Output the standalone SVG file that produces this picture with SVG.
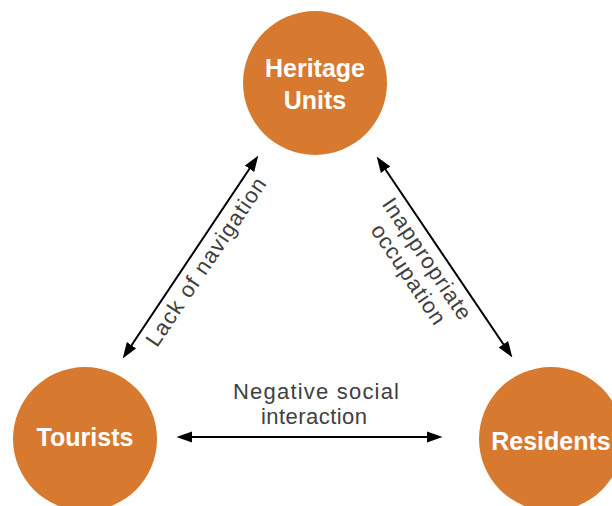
<svg xmlns="http://www.w3.org/2000/svg" width="612" height="506" viewBox="0 0 612 506">
<style>
.node{fill:#D77A30}
.nt{font-family:"Liberation Sans",Arial,sans-serif;font-weight:bold;font-size:25px;fill:#FFFFFF;text-anchor:middle}
.lbl{font-family:"Liberation Sans",Arial,sans-serif;font-size:22px;fill:#404040;text-anchor:middle}
.conn{stroke:#000000;stroke-width:2;fill:none;marker-start:url(#ah);marker-end:url(#ah)}
</style>
<defs>
<marker id="ah" markerUnits="userSpaceOnUse" markerWidth="16" markerHeight="12" viewBox="0 0 14 10" refX="10" refY="5" orient="auto-start-reverse">
<path d="M0,0 L14,5 L0,10 z" fill="#000000"/>
</marker>
</defs>
<rect width="612" height="506" fill="#FFFFFF"/>
<g id="connectors">
<line class="conn" x1="125.2" y1="354.7" x2="255.8" y2="159.3"/>
<line class="conn" x1="379.2" y1="160.3" x2="509.8" y2="353.7"/>
<line class="conn" x1="181" y1="437" x2="438" y2="437"/>
<g transform="translate(190.5,257) rotate(-56.2)">
<text class="lbl" x="4.5" y="23" textLength="198" lengthAdjust="spacing">Lack of navigation</text>
</g>
<g transform="translate(444.5,257) rotate(56.1)">
<text class="lbl" x="-8.4" y="23" textLength="142" lengthAdjust="spacing">Inappropriate</text>
<text class="lbl" x="-5.8" y="47" textLength="116" lengthAdjust="spacing">occupation</text>
</g>
<text class="lbl" x="316" y="399" font-size="21" textLength="166" lengthAdjust="spacing">Negative social</text>
<text class="lbl" x="314" y="424" font-size="21" textLength="106" lengthAdjust="spacing">interaction</text>
</g>
<g id="heritage">
<circle class="node" cx="315" cy="83" r="72"/>
<text class="nt" x="315" y="77">Heritage</text>
<text class="nt" x="315" y="109">Units</text>
</g>
<g id="tourists">
<circle class="node" cx="85" cy="439" r="72"/>
<text class="nt" x="85" y="446">Tourists</text>
</g>
<g id="residents">
<circle class="node" cx="551" cy="439" r="72"/>
<text class="nt" x="551" y="450">Residents</text>
</g>
</svg>
